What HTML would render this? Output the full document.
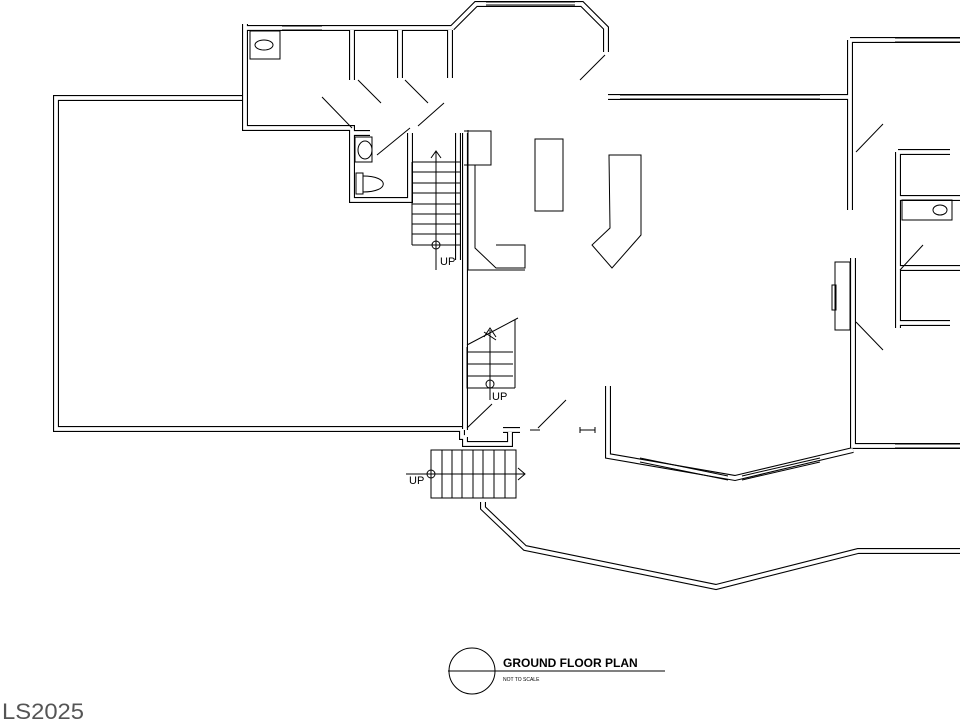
<!DOCTYPE html>
<html><head><meta charset="utf-8"><style>
html,body{margin:0;padding:0;background:#fff;width:960px;height:720px;overflow:hidden}
svg{display:block}
</style></head><body>
<svg width="960" height="720" viewBox="0 0 960 720" xmlns="http://www.w3.org/2000/svg">
<defs>
<g id="walls" fill="none" stroke-linejoin="miter">
  <path d="M242,98 H56 V429 H462"/>
  <path d="M245,24 V128 H352 V133"/>
  <path d="M245,28 H452"/>
  <path d="M352,133 V200 H410 V133"/>
  <path d="M370,133 H352"/>
  <path d="M352,30 V80 M400,30 V78 M450,30 V78"/>
  <path d="M458,133 V260 M465,133 V430"/>
  <path d="M452,28 L476,4 H582 L606,28 V52"/>
  <path d="M608,97 H850 M850,40 V210 M850,40 H960"/>
  <path d="M853,258 V446 H960"/>
  <path d="M462,429 V437 H465 M465,437 V444 H510 V432"/>
  <path d="M503,430 H520"/>
  <path d="M608,386 V456 L735,478 L853,450"/>
  <path d="M483,502 V508 L525,548 L716,587 L858,551 H960"/>
  <path d="M898,152 H950 M898,152 V328 M898,198 H960 M898,268 H960 M898,323 H950"/>
</g>
</defs>
<use href="#walls" stroke="#000" stroke-width="6"/>
<use href="#walls" stroke="#fff" stroke-width="3.8"/>

<g fill="none" stroke="#000" stroke-width="1">
  <path d="M282,26 H322 M282,30 H322"/>
  <path d="M620,95 H820 M620,99 H820"/>
  <path d="M895,38 H960 M895,42 H960"/>
  <path d="M895,444 H960 M895,448 H960"/>
  <path d="M640,458 L728,476 M640,462 L728,480 M742,476 L820,458 M742,480 L820,462"/>
  <path d="M486,2 H575 M486,5 H575"/>
  <path d="M322,97 L352,128 M358,80 L381,103 M405,80 L428,103 M444,103 L418,126 M377,155 L410,128"/>
  <path d="M580,80 L605,55 M856,152 L883,124 M856,322 L883,350 M900,270 L923,245"/>
  <path d="M467,428 L492,404 M538,428 L566,400"/>
  <path d="M530,430 H540 M580,430 H595 M580,427 V433 M595,427 V433"/>
  <rect x="250" y="31" width="30" height="28"/>
  <ellipse cx="264" cy="45" rx="9" ry="5"/>
  <path d="M355,137 H372 V162 H355 Z"/>
  <ellipse cx="365" cy="150" rx="7" ry="9"/>
  <rect x="356" y="173" width="7" height="21"/>
  <path d="M363,176 C390,176 390,192 363,192"/>
  <rect x="902" y="200" width="50" height="20"/>
  <ellipse cx="940" cy="210" rx="7" ry="5"/>
  <rect x="535" y="139" width="28" height="72"/>
  <path d="M609,155 H641 V235 L612,268 L592,245 L610,228 Z"/>
  <path d="M464,131 H491 V165 H464 M475,165 V248 L496,268 H525 V245 H496"/>
  <path d="M468,130 V270 H525"/>
  <path d="M412,162 H460 M412,245 H460 M412,162 V245"/>
  <path d="M412,172 H460 M412,183 H460 M412,193 H460 M412,204 H460 M412,214 H460 M412,224 H460 M412,234 H460"/>
  <path d="M436,152 V270 M431,158 L436,151 L441,158"/>
  <circle cx="436" cy="245" r="4"/>
  <path d="M467,345 L518,318 M515,320 V388 M467,347 V388 H515"/>
  <path d="M467,352 H513 M467,364 H513 M467,376 H513 M467,388 H513"/>
  <path d="M490,330 V400 M484,337 L490,328 L496,337 M484,332 L496,340"/>
  <circle cx="490" cy="384" r="4"/>
  <rect x="431" y="450" width="85" height="48"/>
  <path d="M442,450 V498 M452,450 V498 M462,450 V498 M473,450 V498 M483,450 V498 M494,450 V498 M505,450 V498"/>
  <path d="M406,474 H525 M518,468 L525,474 L518,480"/>
  <circle cx="431" cy="474" r="4"/>
  <rect x="835" y="262" width="15" height="68"/>
  <rect x="832" y="285" width="4" height="25"/>
  <circle cx="472" cy="671" r="23"/>
  <path d="M448,671 H665"/>
</g>
<g font-family="Liberation Sans, sans-serif" fill="#000">
  <text x="440" y="265" font-size="11">UP</text>
  <text x="492" y="400" font-size="11">UP</text>
  <text x="409" y="484" font-size="11">UP</text>
  <text x="503" y="667" font-size="12" font-weight="bold">GROUND FLOOR PLAN</text>
  <text x="503" y="681" font-size="5">NOT TO SCALE</text>
  <text x="2" y="719" font-size="22" fill="#555" textLength="82" lengthAdjust="spacingAndGlyphs">LS2025</text>
</g>
</svg>
</body></html>
